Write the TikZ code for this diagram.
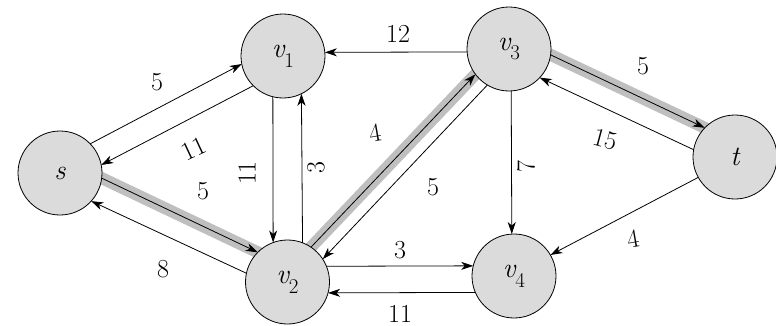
\documentclass[tikz,border=0pt]{standalone}
\usetikzlibrary{arrows.meta}
\pgfdeclarelayer{bg}
\pgfsetlayers{bg,main}
\newcommand\vsub[1]{\textit{v}\raisebox{-0.35em}{\fontsize{21}{21}\selectfont\upshape #1}}
\begin{document}
\begin{tikzpicture}[x=1pt,y=1pt,
  vert/.style={circle, draw, line width=0.8pt, fill=gray!28, minimum size=84pt, inner sep=0pt, outer sep=0pt, font=\fontsize{28}{30}\selectfont\itshape},
  arc/.style={line width=0.8pt, -{Stealth[length=12pt,width=8pt,inset=3.5pt]}},
  hl/.style={line width=12pt, gray!50, line cap=butt, shorten <=-6pt, shorten >=-6pt},
  lbl/.style={font=\fontsize{26}{28}\selectfont, inner sep=0pt}]
\useasboundingbox (0,0) rectangle (776,325);
\node[vert] (s)  at (60,152)  {s};
\node[vert] (v1) at (283,269) {\vsub{1}};
\node[vert] (v2) at (287.5,43) {\vsub{2}};
\node[vert] (v3) at (509,276) {\vsub{3}};
\node[vert] (t)  at (735,168) {t};
\node[vert] (v4) at (514,49)  {\vsub{4}};
% highlighted bands
\begin{pgfonlayer}{bg}
\draw[hl] (s.-7) -- (v2.135);
\draw[hl] (v2.56) -- (v3.217);
\draw[hl] (v3.-8.5) -- (t.136);
\end{pgfonlayer}
% edges
\draw[arc] (s.44) -- (v1.191);
\draw[arc] (v1.225) -- (s.11);
\draw[arc] (s.-7) -- (v2.135);
\draw[arc] (v2.168) -- (s.-42);
\draw[arc] (v1.256.2) -- (v2.110.2);
\draw[arc] (v2.69.8) -- (v1.296.9);
\draw[arc] (v2.56) -- (v3.217);
\draw[arc] (v3.239.4) -- (v2.33.4);
\draw[arc] (v3.184) -- (v1.5.5);
\draw[arc] (v3.-8.5) -- (t.136);
\draw[arc] (t.170) -- (v3.-43.5);
\draw[arc] (v3.273.6) -- (v4.93);
\draw[arc] (v2.22.4) -- (v4.166.2);
\draw[arc] (v4.203.9) -- (v2.-15.2);
\draw[arc] (t.209) -- (v4.30);
% labels
\node[lbl] (l1) at (157,243) {5};
\node[lbl, rotate=25] (l2) at (194,176) {11};
\node[lbl] (l3) at (203,134) {5};
\node[lbl] (l4) at (163,56) {8};
\node[lbl, rotate=90] (l5) at (247,152) {11};
\node[lbl, rotate=90] (l6) at (316,157) {3};
\node[lbl, rotate=10] (l7) at (375,192) {4};
\node[lbl] (l8) at (433,138) {5};
\node[lbl] (l9) at (398,291) {12};
\node[lbl] (l10) at (643,259) {5};
\node[lbl, rotate=-15] (l11) at (605,186) {15};
\node[lbl, rotate=90] (l12) at (526,158) {7};
\node[lbl, rotate=10] (l13) at (633,86) {4};
\node[lbl] (l14) at (400,75) {3};
\node[lbl] (l15) at (400,11) {11};
\end{tikzpicture}
\end{document}
